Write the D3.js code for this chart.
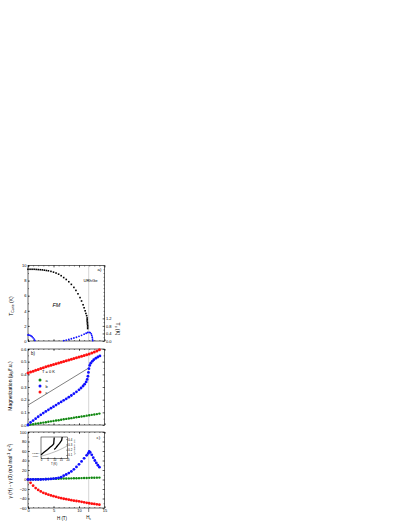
<!DOCTYPE html>
<meta charset="utf-8">

<style>
body { margin: 0; background: #fff; }
svg text { font-family: "Liberation Sans", Arial, sans-serif; fill: #000; }
</style>

<svg width="409" height="529"></svg>

<script src="https://cdnjs.cloudflare.com/ajax/libs/d3/7.8.5/d3.min.js"></script>

<script>
// ---- panel a : T_Curie (black) and T_c (blue) vs field
var hCurie = [0,0.4,0.8,1.2,1.6,2.0,2.4,2.8,3.2,3.6,4.0,4.5,5.0,5.5,6.0,6.5,7.0,7.5,8.0,8.5,
              9.0,9.4,9.8,10.2,10.5,10.8,11.0,11.2,11.35,11.5,11.6,11.6,11.6,11.65,11.65,11.7,11.7,11.7];
var tCurie = [9.5,9.5,9.5,9.5,9.48,9.46,9.44,9.42,9.38,9.34,9.3,9.22,9.12,9.0,8.85,8.65,8.4,8.15,7.85,7.5,
              7.1,6.7,6.25,5.75,5.3,4.8,4.4,4.0,3.65,3.35,3.05,2.85,2.65,2.45,2.25,2.05,1.85,1.65];
var hTcLow = [0,0.2,0.4,0.6,0.8,1.0,1.2,1.35];
var tcLow = [0.32,0.31,0.3,0.27,0.23,0.17,0.1,0.03];
var hTcHigh = [7.0,7.5,8.0,8.5,9.0,9.5,10.0,10.5,11.0,11.4,11.7,12.0,12.2,12.4,12.5,12.6,12.65,12.7];
var tcHigh = [0.02,0.05,0.08,0.12,0.16,0.2,0.25,0.3,0.36,0.41,0.45,0.46,0.44,0.38,0.3,0.2,0.1,0.02];

// ---- panel b : magnetization along a, b, c at T = 0 K
var hGrid = [0,0.5,1,1.5,2,2.5,3,3.5,4,4.5,5,5.5,6,6.5,7,7.5,8,8.5,9,9.5,10,10.5,11,11.5,12,12.5,13,13.5,14];
var magA = [0,0.003,0.006,0.01,0.013,0.016,0.019,0.022,0.026,0.029,0.032,0.035,0.038,0.042,0.045,
            0.048,0.051,0.054,0.058,0.061,0.064,0.067,0.07,0.074,0.077,0.08,0.083,0.086,0.09];
var magC = [0.41,0.418,0.425,0.432,0.439,0.446,0.452,0.459,0.465,0.471,0.477,0.483,0.489,0.495,0.501,
            0.507,0.513,0.519,0.525,0.531,0.537,0.543,0.549,0.555,0.561,0.569,0.577,0.585,0.594];
var hMagB = [0,0.5,1,1.5,2,2.5,3,3.5,4,4.5,5,5.5,6,6.5,7,7.5,8,8.5,9,9.5,
             10,10.4,10.8,11.1,11.4,11.6,11.75,11.85,11.95,12.1,12.3,12.6,12.9,13.3,13.7,14.1];
var magB = [0,0.02,0.035,0.05,0.065,0.08,0.094,0.107,0.12,0.133,0.145,0.157,0.17,0.182,0.195,0.207,0.22,0.233,0.247,0.262,
            0.278,0.292,0.308,0.322,0.34,0.36,0.385,0.415,0.445,0.47,0.488,0.503,0.515,0.527,0.537,0.545];
var guideLine = [[0, 0.157], [11.9, 0.45]];

// ---- panel c : gamma(H) - gamma(0)
var gamA = [0,0.15,0.3,0.45,0.6,0.7,0.85,1,1.15,1.3,1.45,1.6,1.7,1.85,2,2.15,2.3,2.45,2.6,2.7,
            2.85,3,3.15,3.3,3.45,3.6,3.7,3.85,4];
var gamC = [0,-7,-13,-18,-22,-25,-28,-30,-32,-33.5,-35,-36.5,-38,-39.3,-40.5,-41.5,-42.5,-43.5,-44.5,-45.3,
            -46,-47,-48,-49,-50,-50.8,-51.5,-52.3,-53];
var hGamB = [0,0.5,1,1.5,2,2.5,3,3.5,4,4.5,5,5.5,6,6.5,7,7.5,8,8.5,9,9.5,10,10.5,11,11.5,
             11.8,12.0,12.2,12.5,12.8,13.1,13.4,13.7,14.0];
var gamB = [0,0,0,0,0,0,0.3,0.5,0.8,1.2,1.8,2.5,3.5,5,8,10.5,13.5,17,21.5,26.5,32,38,44.5,51,
            55,59,57,52,46,40,35,30,26];

// inset: C/T vs T
var insT1 = [0,1,2,3,4,5,6,7,8,9,9.6,9.8,10];
var insC1 = [0.105,0.125,0.145,0.165,0.185,0.205,0.228,0.25,0.272,0.295,0.312,0.38,0.43];
var insT2 = [10,11,12,13,14,15,15.6,15.8,16];
var insC2 = [0.205,0.23,0.26,0.29,0.32,0.355,0.38,0.41,0.44];
var insT3 = [0,2,4,6,8,10,12,14,16,18,20];
var insC3 = [0.075,0.09,0.105,0.12,0.138,0.156,0.176,0.198,0.222,0.248,0.275];

var Hc = 11.9;
var blue = "#1010ff", red = "#ff1010", green = "#118811";

var svg = d3.select("svg");

var x = d3.scaleLinear().domain([0, 15]).range([28, 104.5]);
var ya = d3.scaleLinear().domain([0, 10]).range([341, 265.5]);
var yaR = d3.scaleLinear().domain([0, 4]).range([341, 265.5]);
var yb = d3.scaleLinear().domain([0, 0.6]).range([425, 349]);
var yc = d3.scaleLinear().domain([-60, 100]).range([508, 432]);

function styleAxis(g, fs) {
  g.select(".domain").remove();
  g.selectAll("line").attr("stroke", "#000").attr("stroke-width", 0.5);
  g.selectAll("text").attr("font-size", fs).attr("fill", "#000");
}

function panel(yS, yMajor, yMinor, fmt, xLabels) {
  var top = yS.range()[1], bottom = yS.range()[0];
  var g = svg.append("g");
  // field of Hc
  g.append("line")
    .attr("x1", x(Hc)).attr("x2", x(Hc)).attr("y1", top).attr("y2", bottom)
    .attr("stroke", "#b8b8b8").attr("stroke-width", 0.6);
  g.append("rect")
    .attr("x", x(0)).attr("y", top).attr("width", x(15) - x(0)).attr("height", bottom - top)
    .attr("fill", "none").attr("stroke", "#000").attr("stroke-width", 0.6);

  g.append("g").attr("transform", "translate(" + x(0) + ",0)")
    .call(d3.axisLeft(yS).tickValues(yMajor).tickSize(-2).tickPadding(1.5).tickFormat(fmt))
    .call(styleAxis, 4);
  g.append("g").attr("transform", "translate(" + x(0) + ",0)")
    .call(d3.axisLeft(yS).tickValues(yMinor).tickSize(-1).tickFormat(""))
    .call(styleAxis, 4);
  var bx = g.append("g").attr("transform", "translate(0," + bottom + ")")
    .call(d3.axisBottom(x).tickValues([0, 5, 10, 15]).tickSize(-2).tickPadding(1.2)
      .tickFormat(xLabels ? d3.format("d") : ""))
    .call(styleAxis, 4);
  g.append("g").attr("transform", "translate(0," + bottom + ")")
    .call(d3.axisBottom(x).tickValues(d3.range(0, 16, 1)).tickSize(-1).tickFormat(""))
    .call(styleAxis, 4);
  g.append("g").attr("transform", "translate(0," + top + ")")
    .call(d3.axisTop(x).tickValues([0, 5, 10, 15]).tickSize(-2).tickFormat(""))
    .call(styleAxis, 4);
  g.append("g").attr("transform", "translate(0," + top + ")")
    .call(d3.axisTop(x).tickValues(d3.range(0, 16, 1)).tickSize(-1).tickFormat(""))
    .call(styleAxis, 4);
  return g;
}

function dots(g, xs, ys, yS, color, r) {
  g.append("g").selectAll("circle")
    .data(xs.map(function (h, i) { return [h, ys[i]]; }))
    .enter().append("circle")
      .attr("cx", function (d) { return x(d[0]); })
      .attr("cy", function (d) { return yS(d[1]); })
      .attr("r", r)
      .attr("fill", color);
}

function yTitle(tx, ty, rot, parts, fs) {
  var t = svg.append("text")
    .attr("transform", "translate(" + tx + "," + ty + ") rotate(" + rot + ")")
    .attr("text-anchor", "middle").attr("font-size", fs);
  parts.forEach(function (p) {
    var s = t.append("tspan").text(p[0]);
    if (p[1] === "sub") s.attr("font-size", fs * 0.7).attr("dy", fs * 0.25);
    else if (p[1] === "sup") s.attr("font-size", fs * 0.7).attr("dy", -fs * 0.4);
    else if (p[1] === "subEnd") s.attr("dy", -fs * 0.25);
    else if (p[1] === "supEnd") s.attr("dy", fs * 0.4);
  });
}

// ---------------- panel a
var ga = panel(ya, [0, 2, 4, 6, 8, 10], d3.range(0, 11, 1), d3.format("d"), false);
ga.append("g").attr("transform", "translate(" + x(15) + ",0)")
  .call(d3.axisRight(yaR).tickValues([0, 0.4, 0.8, 1.2]).tickSize(-2).tickPadding(1.5).tickFormat(d3.format(".1f")))
  .call(styleAxis, 4);
ga.append("g").attr("transform", "translate(" + x(15) + ",0)")
  .call(d3.axisRight(yaR).tickValues(d3.range(0, 4.01, 0.2)).tickSize(-1).tickFormat(""))
  .call(styleAxis, 4);

ga.append("g").selectAll("rect")
  .data(hCurie.map(function (h, i) { return [h, tCurie[i]]; }))
  .enter().append("rect")
    .attr("x", function (d) { return x(d[0]) - 0.8; })
    .attr("y", function (d) { return ya(d[1]) - 0.8; })
    .attr("width", 1.6).attr("height", 1.6)
    .attr("fill", "#000");
dots(ga, hTcLow, tcLow, yaR, blue, 0.9);
dots(ga, hTcHigh, tcHigh, yaR, blue, 0.9);

ga.append("text").attr("x", 97.5).attr("y", 271).attr("font-size", 4.3).text("a)");
ga.append("text").attr("x", 83.5).attr("y", 281.5).attr("font-size", 4.2).text("URhGe");
ga.append("text").attr("x", 52.5).attr("y", 307).attr("font-size", 5.5)
  .attr("font-style", "italic").text("FM");

yTitle(13, 306, -90, [["T"], ["Curie", "sub"], [" (K)", "subEnd"]], 5);
yTitle(116, 329, 90, [["T"], ["c", "sub"], [" (K)", "subEnd"]], 5);

// ---------------- panel b
var gb = panel(yb, d3.range(0, 0.61, 0.1), d3.range(0, 0.61, 0.05), d3.format(".1f"), false);
// mirrored right ticks
gb.append("g").attr("transform", "translate(" + x(15) + ",0)")
  .call(d3.axisRight(yb).tickValues(d3.range(0, 0.61, 0.1)).tickSize(-2).tickFormat(""))
  .call(styleAxis, 4);
gb.append("g").attr("transform", "translate(" + x(15) + ",0)")
  .call(d3.axisRight(yb).tickValues(d3.range(0, 0.61, 0.05)).tickSize(-1).tickFormat(""))
  .call(styleAxis, 4);

gb.append("line")
  .attr("x1", x(guideLine[0][0])).attr("y1", yb(guideLine[0][1]))
  .attr("x2", x(guideLine[1][0])).attr("y2", yb(guideLine[1][1]))
  .attr("stroke", "#000").attr("stroke-width", 0.5);
dots(gb, hGrid, magA, yb, green, 1.2);
dots(gb, hGrid, magC, yb, red, 1.5);
dots(gb, hMagB, magB, yb, blue, 1.4);

gb.append("text").attr("x", 31).attr("y", 355).attr("font-size", 4.5).text("b)");
gb.append("text").attr("x", 42).attr("y", 373).attr("font-size", 4).text("T = 0 K");
var legend = [["a", green], ["b", blue], ["c", red]];
legend.forEach(function (l, i) {
  gb.append("circle").attr("cx", 40).attr("cy", 380 + i * 6).attr("r", 1.5).attr("fill", l[1]);
  gb.append("text").attr("x", 45.5).attr("y", 381.5 + i * 6).attr("font-size", 4).text(l[0]);
});

yTitle(12, 386, -90, [["Magnetization (μ"], ["B", "sub"], ["/f.u.)", "subEnd"]], 5);

// ---------------- panel c
var gc = panel(yc, d3.range(-60, 101, 20), d3.range(-60, 101, 10), d3.format("d"), true);
gc.append("g").attr("transform", "translate(" + x(15) + ",0)")
  .call(d3.axisRight(yc).tickValues(d3.range(-60, 101, 20)).tickSize(-2).tickFormat(""))
  .call(styleAxis, 4);
gc.append("g").attr("transform", "translate(" + x(15) + ",0)")
  .call(d3.axisRight(yc).tickValues(d3.range(-60, 101, 10)).tickSize(-1).tickFormat(""))
  .call(styleAxis, 4);

dots(gc, hGrid, gamA, yc, green, 1.2);
dots(gc, hGrid, gamC, yc, red, 1.4);
dots(gc, hGamB, gamB, yc, blue, 1.4);

gc.append("text").attr("x", 96.5).attr("y", 438.5).attr("font-size", 4.3).text("c)");
gc.append("line").attr("x1", x(Hc)).attr("x2", x(Hc)).attr("y1", 508).attr("y2", 512)
  .attr("stroke", "#000").attr("stroke-width", 0.5);
svg.append("text").attr("x", 62).attr("y", 520).attr("text-anchor", "middle")
  .attr("font-size", 4.5).text("H (T)");
var hcText = svg.append("text").attr("x", x(Hc)).attr("y", 518.5).attr("text-anchor", "middle").attr("font-size", 4.5);
hcText.append("tspan").text("H");
hcText.append("tspan").attr("font-size", 3.2).attr("dy", 1.2).text("c");

yTitle(12, 471, -90, [["γ (H) - γ (0) (mJ mol"], ["-1", "sup"], [" K", "supEnd"], ["-2", "sup"], [")", "supEnd"]], 4.8);

// inset
var ix = d3.scaleLinear().domain([0, 20]).range([41, 67.5]);
var iy = d3.scaleLinear().domain([0.03, 0.44]).range([458.7, 437]);
var gi = svg.append("g");
gi.append("rect").attr("x", 41).attr("y", 437).attr("width", 26.5).attr("height", 21.7)
  .attr("fill", "#fff").attr("stroke", "#000").attr("stroke-width", 0.5);
gi.append("g").attr("transform", "translate(0,458.7)")
  .call(d3.axisBottom(ix).tickValues([0, 5, 10, 15, 20]).tickSize(-1.2).tickPadding(0.8).tickFormat(d3.format("d")))
  .call(styleAxis, 2.8);
gi.append("g").attr("transform", "translate(67.5,0)")
  .call(d3.axisRight(iy).tickValues([0.1, 0.2, 0.3, 0.4]).tickSize(-1.2).tickPadding(0.8).tickFormat(d3.format(".1f")))
  .call(styleAxis, 2.8);
var iline = d3.line().x(function (d) { return ix(d[0]); }).y(function (d) { return iy(d[1]); });
gi.append("path").datum(insT3.map(function (t, i) { return [t, insC3[i]]; }))
  .attr("d", iline).attr("fill", "none").attr("stroke", "#555").attr("stroke-width", 0.4);
gi.append("path").datum(insT1.map(function (t, i) { return [t, insC1[i]]; }))
  .attr("d", iline).attr("fill", "none").attr("stroke", "#000").attr("stroke-width", 1.3);
gi.append("path").datum(insT2.map(function (t, i) { return [t, insC2[i]]; }))
  .attr("d", iline).attr("fill", "none").attr("stroke", "#000").attr("stroke-width", 1.3);
gi.append("text").attr("x", 54).attr("y", 465).attr("text-anchor", "middle").attr("font-size", 2.8).text("T (K)");
gi.append("text").attr("x", 32).attr("y", 453.5).attr("font-size", 2.5).text("γ(12T)");
gi.append("text").attr("x", 32.5).attr("y", 457).attr("font-size", 2.5).text("γ(0T)");
gi.append("text").attr("transform", "translate(73.5,447) rotate(90)")
  .attr("text-anchor", "middle").attr("font-size", 2.5).text("C/T (J/mol K²)");
</script>
